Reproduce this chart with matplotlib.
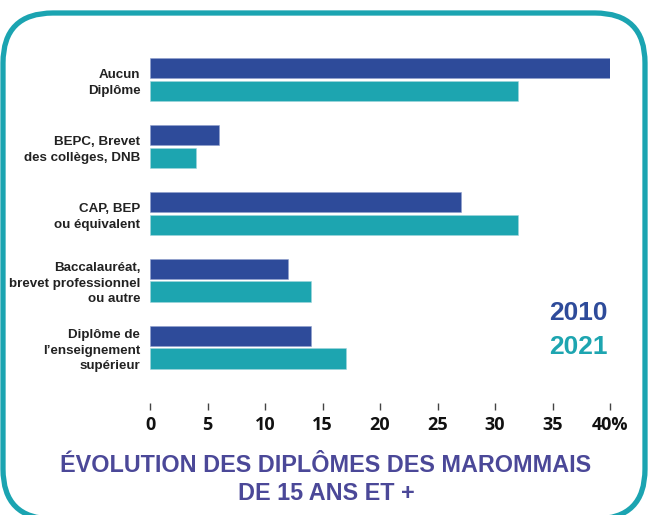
import matplotlib.pyplot as plt
from matplotlib.patches import FancyBboxPatch
import numpy as np

# Data
categories = [
    "Aucun\nDiplôme",
    "BEPC, Brevet\ndes collèges, DNB",
    "CAP, BEP\nou équivalent",
    "Baccalauréat,\nbrevet professionnel\nou autre",
    "Diplôme de\nl\u2019enseignement\nsupérieur",
]
values_2010 = [40, 6, 27, 12, 14]
values_2021 = [32, 4, 32, 14, 17]
tick_values = [0, 5, 10, 15, 20, 25, 30, 35, 40]
tick_labels = ["0", "5", "10", "15", "20", "25", "30", "35", "40%"]

color_2010 = "#2E4B9A"
color_2021 = "#1DA5B0"
color_title = "#4B4898"
color_border = "#1BA4B1"

plt.rcParams['font.family'] = ['Liberation Sans', 'DejaVu Sans']

W, H = 648, 515
fig = plt.figure(figsize=(W / 100, H / 100), dpi=100)

# Background / rounded border in pixel coordinates
bg = fig.add_axes([0, 0, 1, 1])
bg.set_xlim(0, W)
bg.set_ylim(H, 0)
bg.axis('off')
box = FancyBboxPatch((3 + 50, 13 + 50), 642 - 100, 506 - 100,
                     boxstyle="round,pad=50", facecolor="white",
                     edgecolor=color_border, linewidth=3.8)
bg.add_patch(box)

# Bars
left_px, right_px = 150, 610
top_px, bottom_px = 50, 403
ax = fig.add_axes([left_px / W, 1 - bottom_px / H,
                   (right_px - left_px) / W, (bottom_px - top_px) / H])
ax.patch.set_alpha(0)

y = np.arange(len(categories))
offset = 0.166
height = 0.3
ax.barh(y - offset, values_2010, height=height, color=color_2010,
        edgecolor="#8FA0CC", linewidth=0.4)
ax.barh(y + offset, values_2021, height=height, color=color_2021,
        edgecolor="#9FD6DB", linewidth=0.4)

ax.set_xlim(0, 40)
ax.set_ylim(4.83, -0.44)
for s in ax.spines.values():
    s.set_visible(False)

ax.set_yticks(y)
ax.set_yticklabels(categories, fontsize=9.6, fontweight='bold', color='#222222',
                   linespacing=1.4)
ax.tick_params(axis='y', length=0, pad=7)

ax.set_xticks(tick_values)
ax.set_xticklabels(tick_labels, fontsize=13, fontweight='bold',
                   family=['Open Sans', 'DejaVu Sans'], color='#111111')
ax.tick_params(axis='x', direction='out', length=5, width=1.0,
               color='#444444', pad=4)

# Year legend
fig.text(608 / W, 1 - 313 / H, "2010", ha='right', va='center',
         fontsize=19, fontweight='bold', color=color_2010)
fig.text(608 / W, 1 - 347 / H, "2021", ha='right', va='center',
         fontsize=19, fontweight='bold', color=color_2021)

# Title
fig.text(326 / W, 1 - 465 / H, "ÉVOLUTION DES DIPLÔMES DES MAROMMAIS",
         ha='center', va='center', fontsize=16.8, fontweight='bold',
         color=color_title)
fig.text(326 / W, 1 - 493 / H, "DE 15 ANS ET +",
         ha='center', va='center', fontsize=16.8, fontweight='bold',
         color=color_title)

fig.savefig("out.png", dpi=100)
